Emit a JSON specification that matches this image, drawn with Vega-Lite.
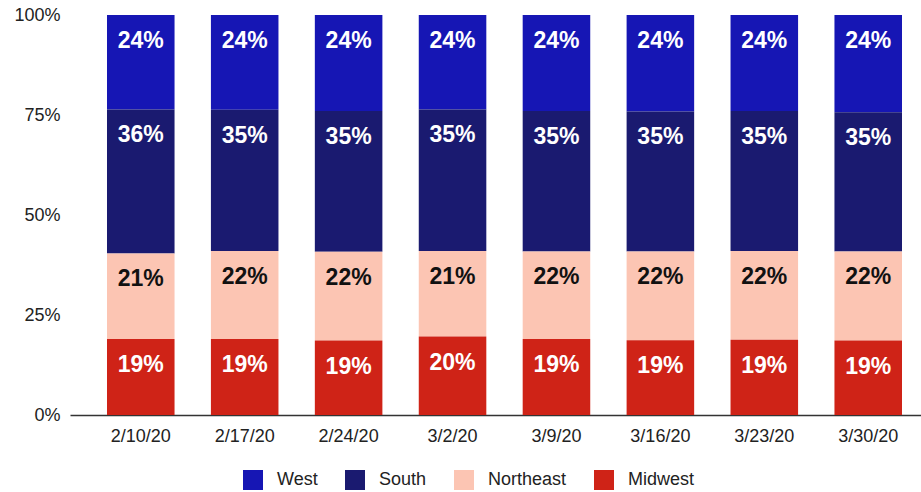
{
  "$schema": "https://vega.github.io/schema/vega-lite/v6.json",
  "width": 851,
  "height": 400,
  "autosize": {"type": "none"},
  "padding": {"left": 70, "top": 15, "right": 0, "bottom": 77},
  "background": "white",
  "config": {
    "view": {"stroke": null},
    "font": "Liberation Sans",
    "axis": {"labelFont": "Liberation Sans", "labelFontSize": 18, "labelColor": "#222222", "grid": false, "ticks": false}
  },
  "data": {
    "values": [
      {"week": "2/10/20", "region": "West", "ord": 4, "share": 0.236},
      {"week": "2/10/20", "region": "South", "ord": 3, "share": 0.360},
      {"week": "2/10/20", "region": "Northeast", "ord": 2, "share": 0.214},
      {"week": "2/10/20", "region": "Midwest", "ord": 1, "share": 0.190},
      {"week": "2/17/20", "region": "West", "ord": 4, "share": 0.237},
      {"week": "2/17/20", "region": "South", "ord": 3, "share": 0.353},
      {"week": "2/17/20", "region": "Northeast", "ord": 2, "share": 0.220},
      {"week": "2/17/20", "region": "Midwest", "ord": 1, "share": 0.190},
      {"week": "2/24/20", "region": "West", "ord": 4, "share": 0.240},
      {"week": "2/24/20", "region": "South", "ord": 3, "share": 0.352},
      {"week": "2/24/20", "region": "Northeast", "ord": 2, "share": 0.222},
      {"week": "2/24/20", "region": "Midwest", "ord": 1, "share": 0.186},
      {"week": "3/2/20", "region": "West", "ord": 4, "share": 0.236},
      {"week": "3/2/20", "region": "South", "ord": 3, "share": 0.354},
      {"week": "3/2/20", "region": "Northeast", "ord": 2, "share": 0.214},
      {"week": "3/2/20", "region": "Midwest", "ord": 1, "share": 0.196},
      {"week": "3/9/20", "region": "West", "ord": 4, "share": 0.240},
      {"week": "3/9/20", "region": "South", "ord": 3, "share": 0.351},
      {"week": "3/9/20", "region": "Northeast", "ord": 2, "share": 0.219},
      {"week": "3/9/20", "region": "Midwest", "ord": 1, "share": 0.190},
      {"week": "3/16/20", "region": "West", "ord": 4, "share": 0.241},
      {"week": "3/16/20", "region": "South", "ord": 3, "share": 0.350},
      {"week": "3/16/20", "region": "Northeast", "ord": 2, "share": 0.222},
      {"week": "3/16/20", "region": "Midwest", "ord": 1, "share": 0.187},
      {"week": "3/23/20", "region": "West", "ord": 4, "share": 0.240},
      {"week": "3/23/20", "region": "South", "ord": 3, "share": 0.350},
      {"week": "3/23/20", "region": "Northeast", "ord": 2, "share": 0.222},
      {"week": "3/23/20", "region": "Midwest", "ord": 1, "share": 0.188},
      {"week": "3/30/20", "region": "West", "ord": 4, "share": 0.243},
      {"week": "3/30/20", "region": "South", "ord": 3, "share": 0.348},
      {"week": "3/30/20", "region": "Northeast", "ord": 2, "share": 0.223},
      {"week": "3/30/20", "region": "Midwest", "ord": 1, "share": 0.186}
    ]
  },
  "encoding": {
    "x": {
      "field": "week", "type": "nominal", "sort": null,
      "scale": {"range": [0, 869], "paddingInner": 0.35, "paddingOuter": 0.356},
      "axis": {"title": null, "labelAngle": 0, "labelPadding": 12, "domainColor": "#333333", "domainWidth": 1.5}
    },
    "y": {
      "field": "share", "type": "quantitative", "stack": "normalize",
      "axis": {"title": null, "format": ".0%", "values": [0, 0.25, 0.5, 0.75, 1], "domain": false, "labelPadding": 10}
    },
    "order": {"field": "ord", "type": "quantitative"}
  },
  "layer": [
    {
      "mark": {"type": "bar"},
      "encoding": {
        "color": {
          "field": "region", "type": "nominal",
          "scale": {"domain": ["West", "South", "Northeast", "Midwest"], "range": ["#1616b4", "#1a1a70", "#fcc5b3", "#cf2317"]},
          "legend": {
            "title": null, "orient": "none", "direction": "horizontal",
            "legendX": 173, "legendY": 455,
            "symbolType": "square", "symbolSize": 400, "symbolStrokeWidth": 0, "symbolOpacity": 1,
            "labelFontSize": 18, "labelColor": "#222222", "labelFont": "Liberation Sans",
            "labelOffset": 14, "columnPadding": 27, "padding": 0
          }
        }
      }
    },
    {
      "mark": {"type": "text", "fontSize": 23, "fontWeight": "bold", "baseline": "middle", "dy": 26},
      "encoding": {
        "text": {"field": "share", "type": "quantitative", "format": ".0%"},
        "color": {
          "condition": {"test": "datum.region === 'Northeast'", "value": "#111111"},
          "value": "#ffffff"
        }
      }
    }
  ]
}
